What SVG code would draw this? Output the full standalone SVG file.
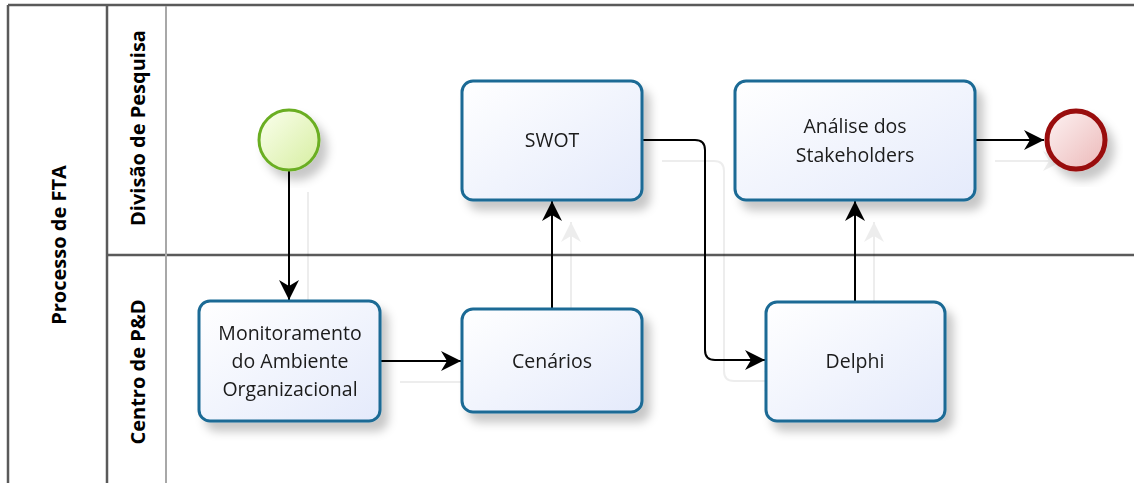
<svg xmlns="http://www.w3.org/2000/svg" width="1134" height="483" viewBox="0 0 1134 483">
<style>
  .frame { stroke: #5a5a5a; stroke-width: 2.5; fill: none; }
  .inner { stroke: #a8a8a8; stroke-width: 2; fill: none; }
  .hdr { font-family: "Open Sans", "Noto Sans", sans-serif; font-weight: bold; font-size: 20px; fill: #000; text-anchor: middle; }
  .task rect { fill: url(#taskFill); stroke: #1b6b95; stroke-width: 3; }
  .task text { font-family: "Open Sans", "Noto Sans", sans-serif; font-size: 19.5px; fill: #1a1a1a; text-anchor: middle; }
  .conn { stroke: #000; stroke-width: 2; fill: none; marker-end: url(#arrow); }
  .node { filter: url(#shadow); }
</style>
<defs>
  <linearGradient id="taskFill" x1="0" y1="0" x2="1" y2="1">
    <stop offset="0" stop-color="#ffffff"/>
    <stop offset="1" stop-color="#e4eafb"/>
  </linearGradient>
  <linearGradient id="startFill" x1="0" y1="0" x2="1" y2="1">
    <stop offset="0" stop-color="#fbffee"/>
    <stop offset="1" stop-color="#d6eea0"/>
  </linearGradient>
  <linearGradient id="endFill" x1="0" y1="0" x2="1" y2="1">
    <stop offset="0" stop-color="#fdf3f3"/>
    <stop offset="1" stop-color="#ecb8b8"/>
  </linearGradient>
  <filter id="shadow" x="-20%" y="-20%" width="150%" height="150%">
    <feDropShadow dx="7" dy="9" stdDeviation="5" flood-color="#000" flood-opacity="0.22"/>
  </filter>
  <filter id="ghost" filterUnits="userSpaceOnUse" x="0" y="0" width="1134" height="483">
    <feOffset in="SourceAlpha" dx="19" dy="21" result="o"/>
    <feFlood flood-color="#000" flood-opacity="0.07" result="f"/>
    <feComposite in="f" in2="o" operator="in" result="g"/>
    <feMerge><feMergeNode in="g"/><feMergeNode in="SourceGraphic"/></feMerge>
  </filter>
  <marker id="arrow" markerUnits="userSpaceOnUse" markerWidth="22" markerHeight="22" refX="20" refY="11" orient="auto">
    <path d="M0,1 L20,11 L0,21 L6,11 z" fill="#000"/>
  </marker>
</defs>

<g id="pool">
  <line class="frame" x1="8" y1="5" x2="1134" y2="5"/>
  <line class="frame" x1="8" y1="5" x2="8" y2="483"/>
  <line class="frame" x1="107" y1="5" x2="107" y2="483"/>
  <line class="frame" x1="107" y1="255" x2="1134" y2="255"/>
  <line class="inner" x1="166" y1="6" x2="166" y2="483"/>
  <text class="hdr" transform="translate(66,245) rotate(-90)">Processo de FTA</text>
  <text class="hdr" transform="translate(145,128) rotate(-90)">Divisão de Pesquisa</text>
  <text class="hdr" transform="translate(145,372) rotate(-90)">Centro de P&amp;D</text>
</g>

<g id="connectors" filter="url(#ghost)">
  <path class="conn" d="M289,171 L289,300"/>
  <path class="conn" d="M381,361 L461,361"/>
  <path class="conn" d="M552,308 L552,201"/>
  <path class="conn" d="M643,140 L695,140 Q705,140 705,150 L705,350 Q705,360 715,360 L765,360"/>
  <path class="conn" d="M855,301 L855,201"/>
  <path class="conn" d="M976,140 L1044,140"/>
</g>

<g id="start" class="node">
  <circle cx="289" cy="140" r="30" fill="url(#startFill)" stroke="#6aae22" stroke-width="3"/>
</g>

<g id="monitoramento" class="node task">
  <rect x="199" y="301" width="181" height="120" rx="11"/>
  <text x="290" y="340">Monitoramento</text>
  <text x="290" y="368">do Ambiente</text>
  <text x="290" y="396">Organizacional</text>
</g>

<g id="cenarios" class="node task">
  <rect x="462" y="309" width="180" height="103" rx="11"/>
  <text x="552" y="368">Cenários</text>
</g>

<g id="swot" class="node task">
  <rect x="462" y="81" width="180" height="119" rx="11"/>
  <text x="552" y="147">SWOT</text>
</g>

<g id="delphi" class="node task">
  <rect x="766" y="302" width="179" height="119" rx="11"/>
  <text x="855" y="368">Delphi</text>
</g>

<g id="analise" class="node task">
  <rect x="735" y="81" width="240" height="119" rx="11"/>
  <text x="855" y="133">Análise dos</text>
  <text x="855" y="162">Stakeholders</text>
</g>

<g id="end" class="node">
  <circle cx="1076" cy="140" r="29" fill="url(#endFill)" stroke="#990a0a" stroke-width="5"/>
</g>
</svg>
